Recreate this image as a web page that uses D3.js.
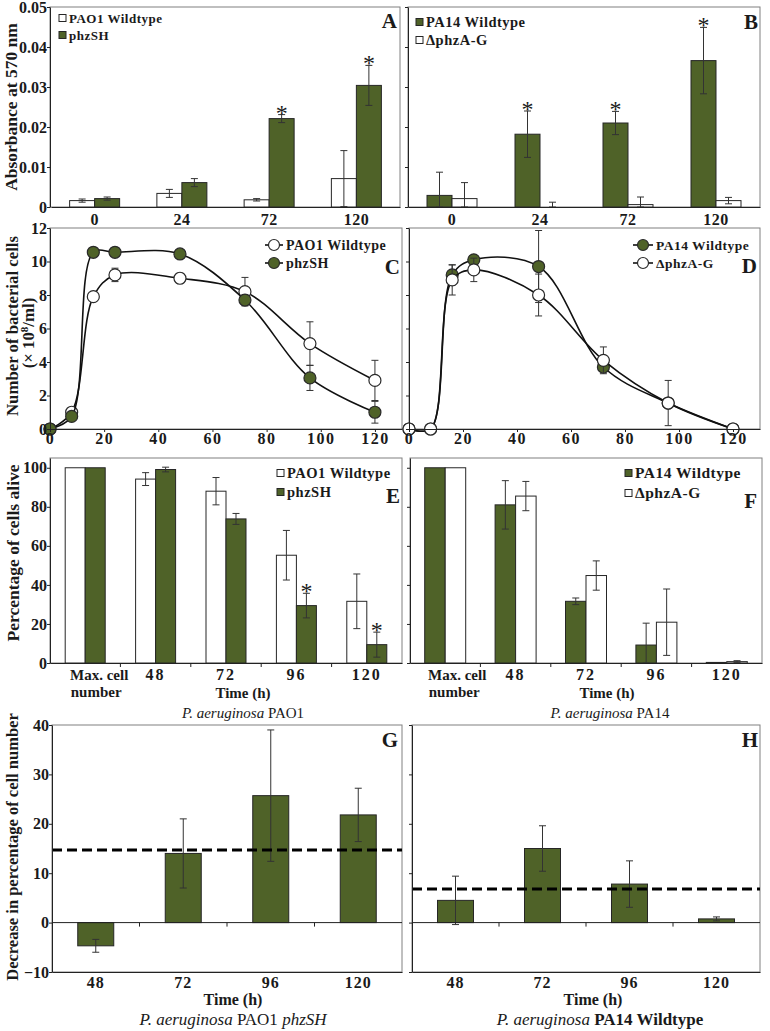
<!doctype html>
<html>
<head>
<meta charset="utf-8">
<style>
  body { margin: 0; background: #fff; }
  svg text { font-family: "Liberation Serif", "Times New Roman", serif; font-weight: bold; fill: #1a1a1a; }
  .tick text { font-size: 16px; }
  .frame { fill: none; stroke: #808080; }
  .domain, .tick line { stroke: #222; }
  .letter { font-size: 21px; }
</style>
<script src="https://d3js.org/d3.v7.min.js"></script>
</head>
<body>
<svg width="770" height="1031"></svg>
<script>
// values

// A / B : absorbance at 570 nm
var absTimes = ["0", "24", "72", "120"];
var absTicks = [0, 0.01, 0.02, 0.03, 0.04, 0.05];
var absPAO1 = [0.0016, 0.0034, 0.0018, 0.0071],
    absPAO1Err = [0.0004, 0.001, 0.0003, 0.007];
var absPhzSH = [0.0021, 0.0061, 0.0221, 0.0304],
    absPhzSHErr = [0.0004, 0.001, 0.001, 0.005],
    absPhzSHStar = [0, 0, 1, 1];
var absPA14 = [0.0029, 0.0182, 0.021, 0.0366],
    absPA14Err = [0.0058, 0.0058, 0.0029, 0.0083],
    absPA14Star = [0, 1, 1, 1];
var absDelta = [0.0021, 0, 0.0006, 0.0016],
    absDeltaErr = [0.004, 0.0012, 0.0019, 0.0008];

// C / D : growth curves
var growthTimes = [0, 8, 16, 24, 48, 72, 96, 120];
var growthXTicks = [0, 20, 40, 60, 80, 100, 120];
var growthYTicks = [0, 2, 4, 6, 8, 10, 12];
var growthPAO1 = [0, 1.0, 7.9, 9.2, 9.0, 8.2, 5.1, 2.9],
    growthPAO1Err = [0, 0, 0, 0.4, 0.3, 0.85, 1.3, 1.2];
var growthPhzSH = [0, 0.75, 10.55, 10.55, 10.45, 7.7, 3.05, 1.0],
    growthPhzSHErr = [0, 0, 0, 0, 0, 0.3, 0.75, 0.65];
var growthPA14 = [0, 0, 9.2, 10.1, 9.7, 3.7, 1.55, 0],
    growthPA14Err = [0, 0, 0.6, 0, 2.15, 0, 0, 0];
var growthDelta = [0, 0, 8.9, 9.5, 8.0, 4.1, 1.55, 0],
    growthDeltaErr = [0, 0, 0.9, 0.7, 1.25, 0.8, 1.35, 0];

// E / F : percentage of cells alive
var survCats = ["Max. cell number", "48", "72", "96", "120"];
var survTicks = [0, 20, 40, 60, 80, 100];
var survPAO1 = [100, 94.2, 88.0, 55.2, 31.6],
    survPAO1Err = [0, 3.3, 7, 12.7, 14];
var survPhzSH = [100, 99.1, 73.8, 29.4, 9.4],
    survPhzSHErr = [0, 1.2, 2.8, 6.3, 6.4],
    survPhzSHStar = [0, 0, 0, 1, 1];
var survPA14 = [100, 81, 31.6, 9.2, 0.3],
    survPA14Err = [0, 12.4, 1.7, 11.2, 0];
var survDelta = [100, 85.5, 44.8, 20.9, 0.7],
    survDeltaErr = [0, 7.5, 7.5, 17, 0.5];

// G / H : decrease in percentage of cell number
var decCats = ["48", "72", "96", "120"];
var decTicks = [-10, 0, 10, 20, 30, 40];
var decPhzSH = [-4.7, 14.0, 25.7, 21.8],
    decPhzSHErr = [1.3, 7, 13.3, 5.4],
    decPhzSHLine = 14.7;
var decPA14 = [4.5, 15.0, 7.8, 0.75],
    decPA14Err = [4.9, 4.6, 4.7, 0.4],
    decPA14Line = 6.8;

var svg = d3.select("svg");
var green = "#4f6228", edge = "#262626";
var noLabel = function () { return ""; };

function frame(x0, y0, x1, y1) {
  svg.append("rect").attr("class", "frame")
    .attr("x", x0).attr("y", y0).attr("width", x1 - x0).attr("height", y1 - y0);
}

function errBar(g, x, ya, yb) {
  g.append("path")
    .attr("d", "M" + x + "," + ya + "V" + yb +
               "M" + (x - 3.5) + "," + ya + "h7M" + (x - 3.5) + "," + yb + "h7")
    .attr("stroke", "#333").attr("fill", "none");
}

function yAxis(y, x0, ticks, fmt) {
  svg.append("g").attr("transform", "translate(" + x0 + ",0)")
    .call(d3.axisLeft(y).tickValues(ticks).tickSize(3).tickSizeOuter(0)
      .tickPadding(0).tickFormat(fmt || noLabel));
}

function xBandAxis(x, y0, pad, spacing, boundaryTicks, fmt) {
  var g = svg.append("g").attr("transform", "translate(0," + y0 + ")")
    .call(d3.axisBottom(x).tickSize(0).tickPadding(pad).tickFormat(fmt || null));
  g.selectAll("text").style("letter-spacing", spacing + "px");
  if (boundaryTicks) {
    g.selectAll(".bt").data(x.domain().slice(1)).enter().append("line")
      .attr("x1", function (d) { return x(d); }).attr("x2", function (d) { return x(d); })
      .attr("y2", 4).attr("stroke", "#222");
  }
  return g;
}

function bars(cfg) {
  var x = d3.scaleBand().domain(cfg.cats).range(cfg.range);
  var n = cfg.series.length, floor = cfg.y.range()[0];
  cfg.series.forEach(function (s, i) {
    var off = (i - n / 2) * cfg.barW;
    var bx = function (d) { return x(d) + x.bandwidth() / 2 + off; };
    var g = svg.append("g");
    g.selectAll("rect").data(cfg.cats).enter().append("rect")
      .attr("x", bx)
      .attr("y", function (d, j) { return cfg.y(Math.max(0, s.vals[j])); })
      .attr("width", cfg.barW)
      .attr("height", function (d, j) { return Math.abs(cfg.y(s.vals[j]) - cfg.y(0)); })
      .attr("fill", s.fill).attr("stroke", edge);
    cfg.cats.forEach(function (d, j) {
      var xm = bx(d) + cfg.barW / 2;
      if (s.errs[j]) {
        var ya = cfg.y(s.vals[j] + s.errs[j]);
        var yb = Math.min(floor, cfg.y(s.vals[j] - s.errs[j]));
        errBar(g, xm, ya, yb);
      }
      if (s.stars && s.stars[j]) {
        g.append("text").attr("x", xm).attr("y", cfg.y(s.vals[j] + s.errs[j]) + 6)
          .attr("text-anchor", "middle").style("font-size", "24px").style("font-weight", "normal")
          .text("*");
      }
    });
  });
  return x;
}

function squareLegend(x, ys, items, size) {
  items.forEach(function (it, i) {
    svg.append("rect").attr("x", x).attr("y", ys[i] - 3.5).attr("width", 7).attr("height", 7)
      .attr("fill", it.fill).attr("stroke", edge);
    svg.append("text").attr("x", x + 10).attr("y", ys[i]).attr("dy", "0.35em")
      .style("font-size", size + "px").style("letter-spacing", "0.5px").text(it.name);
  });
}

function lineLegend(x0, x1, ys, items, size) {
  items.forEach(function (it, i) {
    svg.append("line").attr("x1", x0).attr("x2", x1).attr("y1", ys[i]).attr("y2", ys[i])
      .attr("stroke", "#111").attr("stroke-width", 1.6);
    svg.append("circle").attr("cx", (x0 + x1) / 2).attr("cy", ys[i]).attr("r", 5.5)
      .attr("fill", it.fill).attr("stroke", "#2a2a2a").attr("stroke-width", 1.2);
    svg.append("text").attr("x", x1 + 3).attr("y", ys[i]).attr("dy", "0.35em")
      .style("font-size", size + "px").style("letter-spacing", "0.5px").text(it.name);
  });
}

function letter(x, y, t) {
  svg.append("text").attr("class", "letter").attr("x", x).attr("y", y)
    .attr("text-anchor", "end").text(t);
}

function yTitle(x, y, txt, size) {
  return svg.append("text").attr("transform", "translate(" + x + "," + y + ") rotate(-90)")
    .attr("text-anchor", "middle").attr("dy", "0.35em").style("font-size", size + "px").text(txt);
}

function caption(x, y, parts, size) {
  var t = svg.append("text").attr("x", x).attr("y", y).attr("text-anchor", "middle")
    .style("font-size", size + "px");
  parts.forEach(function (p) {
    t.append("tspan").style("font-style", p[1] ? "italic" : "normal")
      .style("font-weight", p[2] ? "bold" : "normal").text(p[0]);
  });
}

function label(x, y, txt, size) {
  svg.append("text").attr("x", x).attr("y", y).attr("text-anchor", "middle")
    .style("font-size", size + "px").text(txt);
}

// ---------- A ----------
var yAbs = d3.scaleLinear().domain([0, 0.05]).range([207, 7]);
frame(50, 7, 400, 207);
var xA = bars({ cats: absTimes, range: [51, 400], y: yAbs, barW: 25, series: [
  { vals: absPAO1, errs: absPAO1Err, fill: "#fff" },
  { vals: absPhzSH, errs: absPhzSHErr, fill: green, stars: absPhzSHStar }] });
yAxis(yAbs, 50, absTicks, function (d) { return d ? d.toFixed(2) : "0"; });
xBandAxis(xA, 207, 7, 0.5, false);
squareLegend(59, [18, 35], [{ name: "PAO1 Wildtype", fill: "#fff" }, { name: "phzSH", fill: green }], 13);
letter(397, 28, "A");
yTitle(11, 107, "Absorbance at 570 nm", 17.5);

// ---------- B ----------
frame(408, 7, 760, 207);
var xB = bars({ cats: absTimes, range: [408, 760], y: yAbs, barW: 25, series: [
  { vals: absPA14, errs: absPA14Err, fill: green, stars: absPA14Star },
  { vals: absDelta, errs: absDeltaErr, fill: "#fff" }] });
yAxis(yAbs, 408, absTicks);
xBandAxis(xB, 207, 7, 0.5, false);
squareLegend(416, [22, 40], [{ name: "PA14 Wildtype", fill: green }, { name: "\u0394phzA-G", fill: "#fff" }], 14.5);
letter(758, 29, "B");

// ---------- C / D ----------
var yGrowth = d3.scaleLinear().domain([0, 12]).range([429, 228]);

function growth(range, series, labels) {
  var x = d3.scaleLinear().domain([0, 130]).range(range);
  frame(range[0], 228, range[1], 429);
  var line = d3.line()
    .x(function (d, i) { return x(growthTimes[i]); })
    .y(function (d) { return yGrowth(d); })
    .curve(d3.curveCatmullRom.alpha(0.5));
  series.forEach(function (s) {
    var g = svg.append("g");
    s.errs.forEach(function (e, i) {
      if (e) errBar(g, x(growthTimes[i]), yGrowth(s.vals[i] + e), yGrowth(s.vals[i] - e));
    });
    g.append("path").datum(s.vals).attr("d", line)
      .attr("fill", "none").attr("stroke", "#111").attr("stroke-width", 1.6);
    g.selectAll("circle").data(s.vals).enter().append("circle")
      .attr("cx", function (d, i) { return x(growthTimes[i]); })
      .attr("cy", function (d) { return yGrowth(d); })
      .attr("r", 6).attr("fill", s.fill).attr("stroke", "#2a2a2a").attr("stroke-width", 1.2);
  });
  svg.append("g").attr("transform", "translate(0,429)")
    .call(d3.axisBottom(x).tickValues(growthXTicks).tickSize(3).tickSizeOuter(0).tickPadding(1))
    .selectAll("text").style("letter-spacing", "1.5px");
  yAxis(yGrowth, range[0], growthYTicks, labels ? d3.format("d") : null);
}

growth([50, 402], [
  { vals: growthPAO1, errs: growthPAO1Err, fill: "#fff" },
  { vals: growthPhzSH, errs: growthPhzSHErr, fill: green }], true);
lineLegend(265, 283, [245, 263], [{ name: "PAO1 Wildtype", fill: "#fff" }, { name: "phzSH", fill: green }], 14);
letter(400, 274, "C");
yTitle(12, 326, "Number of bacterial cells", 16.8);
var t2 = yTitle(28, 333, "(\u00d7 10", 16.8);
t2.append("tspan").attr("dy", -6).style("font-size", "11px").text("8");
t2.append("tspan").attr("dy", 6).text("/ml)");

growth([409, 760], [
  { vals: growthPA14, errs: growthPA14Err, fill: green },
  { vals: growthDelta, errs: growthDeltaErr, fill: "#fff" }], false);
lineLegend(633, 653, [245, 263], [{ name: "PA14 Wildtype", fill: green }, { name: "\u0394phzA-G", fill: "#fff" }], 13.5);
letter(757, 273, "D");

// ---------- E / F ----------
var ySurv = d3.scaleLinear().domain([0, 105]).range([663, 458]);
var survFmt = function (d) { return d === survCats[0] ? "" : d; };

function maxLabel(x, dx) {
  var cx = x(survCats[0]) + x.bandwidth() / 2 + dx;
  label(cx, 680, "Max. cell", 15);
  label(cx - 3, 697, "number", 15);
}

frame(50, 458, 402, 663);
var xE = bars({ cats: survCats, range: [50, 402], y: ySurv, barW: 20, series: [
  { vals: survPAO1, errs: survPAO1Err, fill: "#fff" },
  { vals: survPhzSH, errs: survPhzSHErr, fill: green, stars: survPhzSHStar }] });
yAxis(ySurv, 50, survTicks, d3.format("d"));
xBandAxis(xE, 663, 6, 2, true, survFmt);
maxLabel(xE, 14);
squareLegend(277, [473, 492], [{ name: "PAO1 Wildtype", fill: "#fff" }, { name: "phzSH", fill: green }], 14.5);
letter(400, 503, "E");
yTitle(13, 553, "Percentage of cells alive", 17.5);
label(243, 698, "Time (h)", 15);
caption(243, 718, [["P. aeruginosa ", 1, 0], ["PAO1", 0, 0]], 15);

frame(410, 458, 762, 663);
var xF = bars({ cats: survCats, range: [410, 762], y: ySurv, barW: 20.5, series: [
  { vals: survPA14, errs: survPA14Err, fill: green },
  { vals: survDelta, errs: survDeltaErr, fill: "#fff" }] });
yAxis(ySurv, 410, survTicks);
xBandAxis(xF, 663, 6, 2, true, survFmt);
maxLabel(xF, 12);
squareLegend(625, [473, 493], [{ name: "PA14 Wildtype", fill: green }, { name: "\u0394phzA-G", fill: "#fff" }], 15.5);
letter(757, 508, "F");
label(607, 698, "Time (h)", 15);
caption(610, 718, [["P. aeruginosa ", 1, 0], ["PA14", 0, 0]], 15);

// ---------- G / H ----------
var yDec = d3.scaleLinear().domain([-10, 40]).range([972, 725]);

function decPanel(range, vals, errs, thr) {
  frame(range[0], 725, range[1], 972);
  var x = bars({ cats: decCats, range: range, y: yDec, barW: 36, series: [
    { vals: vals, errs: errs, fill: green }] });
  var z = svg.append("g").attr("transform", "translate(0," + yDec(0) + ")");
  z.append("line").attr("x1", range[0]).attr("x2", range[1]).attr("stroke", "#222");
  z.selectAll(".bt").data(decCats.slice(1)).enter().append("line")
    .attr("x1", function (d) { return x(d); }).attr("x2", function (d) { return x(d); })
    .attr("y2", 4).attr("stroke", "#222");
  svg.append("line").attr("x1", range[0]).attr("x2", range[1])
    .attr("y1", yDec(thr)).attr("y2", yDec(thr))
    .attr("stroke", "#000").attr("stroke-width", 3).attr("stroke-dasharray", "10,5");
  xBandAxis(x, 972, 5, 1, false);
  return x;
}

decPanel([52, 402], decPhzSH, decPhzSHErr, decPhzSHLine);
yAxis(yDec, 52, decTicks, d3.format("d"));
letter(398, 747, "G");
yTitle(12, 847, "Decrease in percentage of cell number", 16.5);
label(233, 1005, "Time (h)", 16);
caption(233, 1025, [["P. aeruginosa ", 1, 0], ["PAO1 ", 0, 0], ["phzSH", 1, 0]], 17);

decPanel([412, 760], decPA14, decPA14Err, decPA14Line);
yAxis(yDec, 412, decTicks);
letter(758, 747, "H");
label(593, 1005, "Time (h)", 16);
caption(600, 1025, [["P. aeruginosa ", 1, 0], ["PA14 Wildtype", 0, 1]], 17);
</script>
</body>
</html>
